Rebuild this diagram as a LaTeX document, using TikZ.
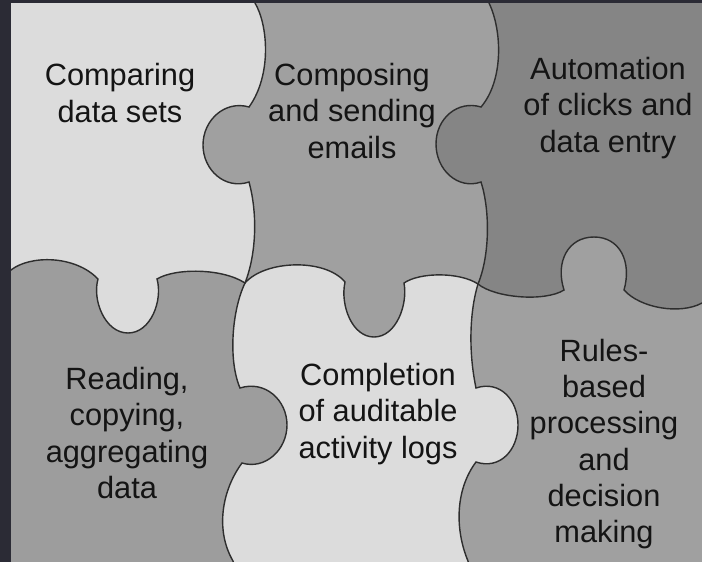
\documentclass[tikz,border=0pt]{standalone}
\usepackage{fontspec}
\setmainfont{Liberation Sans}
\definecolor{pzlight}{HTML}{DCDCDC}
\definecolor{pzmid}{HTML}{A0A0A0}
\definecolor{pzread}{HTML}{9D9D9D}
\definecolor{pzdark}{HTML}{858585}
\definecolor{pzline}{HTML}{2E2E2E}
\definecolor{pzframe}{HTML}{2B2B35}
\definecolor{pztext}{HTML}{141414}
\begin{document}
\begin{tikzpicture}[
				x=0.02cm, y=-0.02cm,
				piece/.style={draw=pzline, line width=0.8pt},
				lbl/.style={align=center, text=pztext, inner sep=0, font=\fontsize{17.5}{20.7}\selectfont},
			]
			\useasboundingbox (0,0) rectangle (702,561);
			\fill[pzlight] (-10,-10) rectangle (712,572);
			% composing / rules (and the ground under automation)
			\path[piece, fill=pzmid] (255,-10) -- (255,3)
				.. controls (268,25) and (272,75) .. (249,107)
				.. controls (225,100) and (203,120) .. (203,145)
				.. controls (203,170) and (225,190) .. (249,182)
				.. controls (258,215) and (256,255) .. (245,283)
				.. controls (265,260) and (325,258) .. (345,282)
				.. controls (340,305) and (352,337) .. (374,337)
				.. controls (396,337) and (408,305) .. (404,283)
				.. controls (420,272) and (460,272) .. (478,284)
				.. controls (470,310) and (468,350) .. (476,388)
				.. controls (500,380) and (518,400) .. (518,425)
				.. controls (518,450) and (500,470) .. (476,462)
				.. controls (455,490) and (455,530) .. (468,561)
				-- (471,572) -- (712,572) -- (712,-10) -- cycle;
			% automation
			\path[piece, fill=pzdark] (489,-10) -- (489,3)
				.. controls (502,30) and (504,80) .. (481,107)
				.. controls (458,100) and (436,118) .. (436,144)
				.. controls (436,170) and (458,190) .. (481,182)
				.. controls (490,210) and (490,255) .. (478,284)
				.. controls (495,298) and (545,302) .. (564,290)
				.. controls (555,262) and (568,237) .. (594,237)
				.. controls (620,237) and (632,262) .. (624,290)
				.. controls (640,308) and (680,315) .. (702,303)
				-- (712,300) -- (712,-10) -- cycle;
			% reading
			\path[piece, fill=pzread] (-5,276) -- (11,270)
				.. controls (30,255) and (75,255) .. (98,279)
				.. controls (92,300) and (105,333) .. (128,333)
				.. controls (151,333) and (163,300) .. (157,279)
				.. controls (175,268) and (222,268) .. (245,283)
				.. controls (232,310) and (228,360) .. (240,388)
				.. controls (265,380) and (287,400) .. (287,425)
				.. controls (287,450) and (265,470) .. (242,463)
				.. controls (222,490) and (215,530) .. (233,561)
				-- (236,572) -- (-5,572) -- cycle;
			% frame
			\fill[pzframe] (-10,-10) rectangle (11,572);
			\fill[pzframe] (-10,-10) rectangle (712,3);
			\node[lbl] (compare) at (120,93) {Comparing\\data sets};
			\node[lbl] (compose) at (352,111) {Composing\\and sending\\emails};
			\node[lbl] (automate) at (608,108) {Automation\\of clicks and\\data entry};
			\node[lbl] (reading) at (127,433) {Reading,\\copying,\\aggregating\\data};
			\node[lbl] (complete) at (378,414) {Completion\\of auditable\\activity logs};
			\node[lbl] (rules) at (604,444) {Rules-\\based\\processing\\and\\decision\\making};
			\end{tikzpicture}
\end{document}
